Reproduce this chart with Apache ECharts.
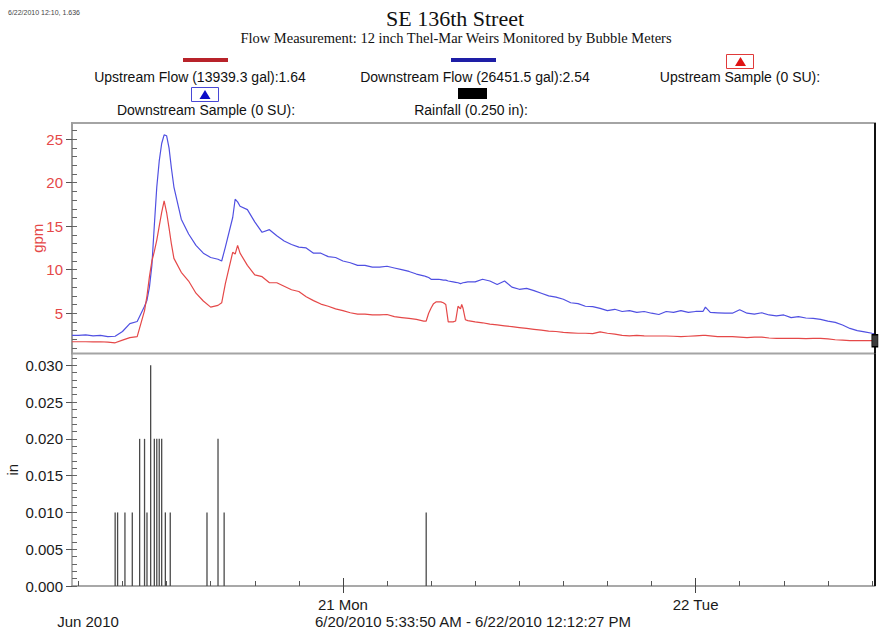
<!DOCTYPE html>
<html>
<head>
<meta charset="utf-8">
<title>SE 136th Street</title>
<script src="https://cdn.jsdelivr.net/npm/echarts@6/dist/echarts.min.js"></script>
<style>
  html, body { margin: 0; padding: 0; background: #ffffff; }
  #chart { width: 879px; height: 631px; }
</style>
</head>
<body>
<div id="chart"></div>
<script>
// ---- Flow record (gpm), shared timestamps for both meters ----
const flowTimes = [
  '2010-06-20 05:34', '2010-06-20 06:00', '2010-06-20 06:30', '2010-06-20 07:00', '2010-06-20 07:30',
  '2010-06-20 08:00', '2010-06-20 08:30', '2010-06-20 09:00', '2010-06-20 09:30', '2010-06-20 10:00',
  '2010-06-20 10:30', '2010-06-20 10:40', '2010-06-20 10:50', '2010-06-20 11:00', '2010-06-20 11:10',
  '2010-06-20 11:20', '2010-06-20 11:30', '2010-06-20 11:40', '2010-06-20 11:50', '2010-06-20 12:00',
  '2010-06-20 12:10', '2010-06-20 12:20', '2010-06-20 12:30', '2010-06-20 13:00', '2010-06-20 13:30',
  '2010-06-20 14:00', '2010-06-20 14:30', '2010-06-20 15:00', '2010-06-20 15:30', '2010-06-20 15:45',
  '2010-06-20 16:00', '2010-06-20 16:30', '2010-06-20 16:40', '2010-06-20 16:50', '2010-06-20 17:00',
  '2010-06-20 17:30', '2010-06-20 18:00', '2010-06-20 18:30', '2010-06-20 19:00', '2010-06-20 19:30',
  '2010-06-20 20:00', '2010-06-20 20:30', '2010-06-20 21:00', '2010-06-20 21:30', '2010-06-20 22:00',
  '2010-06-20 22:30', '2010-06-20 23:00', '2010-06-20 23:30', '2010-06-21 00:00', '2010-06-21 00:30',
  '2010-06-21 01:00', '2010-06-21 01:30', '2010-06-21 02:00', '2010-06-21 02:30', '2010-06-21 03:00',
  '2010-06-21 03:30', '2010-06-21 04:00', '2010-06-21 04:30', '2010-06-21 05:00', '2010-06-21 05:30',
  '2010-06-21 05:40', '2010-06-21 05:50', '2010-06-21 06:00', '2010-06-21 06:10', '2010-06-21 06:20',
  '2010-06-21 06:30', '2010-06-21 06:40', '2010-06-21 06:50', '2010-06-21 07:00', '2010-06-21 07:10',
  '2010-06-21 07:30', '2010-06-21 07:40', '2010-06-21 07:50', '2010-06-21 08:00', '2010-06-21 08:05',
  '2010-06-21 08:10', '2010-06-21 08:20', '2010-06-21 08:30', '2010-06-21 09:00', '2010-06-21 09:30',
  '2010-06-21 10:00', '2010-06-21 10:30', '2010-06-21 11:00', '2010-06-21 11:30', '2010-06-21 12:00',
  '2010-06-21 12:30', '2010-06-21 13:00', '2010-06-21 13:30', '2010-06-21 14:00', '2010-06-21 14:30',
  '2010-06-21 15:00', '2010-06-21 15:30', '2010-06-21 16:00', '2010-06-21 16:30', '2010-06-21 17:00',
  '2010-06-21 17:30', '2010-06-21 18:00', '2010-06-21 18:30', '2010-06-21 19:00', '2010-06-21 19:30',
  '2010-06-21 20:00', '2010-06-21 20:30', '2010-06-21 21:00', '2010-06-21 21:30', '2010-06-21 22:00',
  '2010-06-21 22:30', '2010-06-21 23:00', '2010-06-21 23:30', '2010-06-22 00:00', '2010-06-22 00:30',
  '2010-06-22 00:40', '2010-06-22 01:00', '2010-06-22 01:30', '2010-06-22 02:00', '2010-06-22 02:30',
  '2010-06-22 03:00', '2010-06-22 03:30', '2010-06-22 04:00', '2010-06-22 04:30', '2010-06-22 05:00',
  '2010-06-22 05:30', '2010-06-22 06:00', '2010-06-22 06:30', '2010-06-22 07:00', '2010-06-22 07:30',
  '2010-06-22 08:00', '2010-06-22 08:30', '2010-06-22 09:00', '2010-06-22 09:30', '2010-06-22 10:00',
  '2010-06-22 10:30', '2010-06-22 11:00', '2010-06-22 11:30', '2010-06-22 12:00', '2010-06-22 12:12'
];

const upstreamFlow = [
  1.72, 1.72, 1.72, 1.70, 1.72,
  1.68, 1.60, 1.90, 2.20, 2.30,
  5.30, 7.00, 9.20, 11.0, 12.1,
  13.4, 15.0, 16.6, 17.9, 16.6,
  14.8, 12.9, 11.3, 9.70, 8.70,
  7.30, 6.40, 5.70, 5.90, 6.20,
  8.40, 12.0, 11.8, 12.8, 11.9,
  10.5, 9.40, 9.20, 8.50, 8.50,
  8.10, 7.70, 7.50, 6.90, 6.45,
  6.05, 5.80, 5.50, 5.30, 5.05,
  4.90, 4.90, 4.80, 4.80, 4.85,
  4.60, 4.50, 4.40, 4.30, 4.10,
  4.10, 5.00, 5.60, 6.10, 6.30,
  6.30, 6.30, 6.20, 6.00, 4.00,
  4.00, 4.10, 5.80, 5.50, 6.00,
  5.60, 4.25, 4.15, 4.00, 3.90,
  3.75, 3.65, 3.55, 3.45, 3.35,
  3.25, 3.15, 3.05, 2.95, 2.90,
  2.80, 2.75, 2.70, 2.70, 2.65,
  2.85, 2.70, 2.60, 2.45, 2.40,
  2.45, 2.40, 2.38, 2.38, 2.38,
  2.35, 2.30, 2.35, 2.40, 2.45,
  2.45, 2.40, 2.30, 2.30, 2.30,
  2.25, 2.20, 2.25, 2.25, 2.15,
  2.10, 2.10, 2.12, 2.10, 2.08,
  2.10, 2.10, 2.05, 1.95, 1.90,
  1.85, 1.84, 1.85, 1.84, 1.84
];

const downstreamFlow = [
  2.45, 2.45, 2.50, 2.40, 2.45,
  2.30, 2.35, 2.90, 3.80, 4.05,
  5.80, 6.50, 8.00, 10.5, 15.1,
  19.5, 22.5, 24.5, 25.5, 25.4,
  24.0, 21.6, 19.5, 15.8, 14.1,
  12.8, 11.9, 11.4, 11.2, 11.0,
  12.6, 16.0, 18.1, 17.8, 17.3,
  16.9, 15.5, 14.3, 14.6, 13.9,
  13.3, 12.9, 12.6, 12.5, 11.9,
  11.9, 11.5, 11.4, 11.0, 10.8,
  10.5, 10.5, 10.3, 10.3, 10.4,
  10.2, 10.0, 9.80, 9.50, 9.30,
  9.20, 9.10, 8.90, 8.90, 8.90,
  8.90, 8.85, 8.80, 8.80, 8.70,
  8.60, 8.55, 8.50, 8.40, 8.45,
  8.50, 8.55, 8.60, 8.60, 8.90,
  8.70, 8.30, 8.70, 8.00, 7.75,
  7.85, 7.60, 7.30, 7.00, 6.85,
  6.60, 6.20, 6.10, 5.80, 5.75,
  5.55, 5.30, 5.45, 5.20, 5.30,
  5.10, 5.20, 5.00, 4.85, 5.20,
  5.10, 5.30, 5.10, 5.20, 5.20,
  5.70, 5.10, 5.05, 5.00, 5.00,
  5.40, 5.00, 4.90, 5.05, 4.80,
  4.70, 4.80, 4.50, 4.60, 4.45,
  4.40, 4.30, 4.10, 3.95, 3.65,
  3.25, 3.00, 2.85, 2.70, 2.65
];

// ---- Rain gauge tips (in) ----
const rainTimes = [
  '2010-06-20 08:30', '2010-06-20 08:40', '2010-06-20 09:10', '2010-06-20 09:40', '2010-06-20 10:10',
  '2010-06-20 10:30', '2010-06-20 10:40', '2010-06-20 10:55', '2010-06-20 11:10', '2010-06-20 11:20',
  '2010-06-20 11:30', '2010-06-20 11:40', '2010-06-20 11:55', '2010-06-20 12:15', '2010-06-20 14:45',
  '2010-06-20 15:30', '2010-06-20 15:55', '2010-06-21 05:40'
];
const rainfall = [
  0.010, 0.010, 0.010, 0.010, 0.020,
  0.020, 0.010, 0.030, 0.020, 0.020,
  0.020, 0.020, 0.010, 0.010, 0.010,
  0.020, 0.010, 0.010
];

// ---- Axis ticks and labels ----
const flowTickValues = [5, 10, 15, 20, 25];
const rainTickLabels = ['0.000', '0.005', '0.010', '0.015', '0.020', '0.025', '0.030'];
const dayTickTimes = ['2010-06-21 00:00', '2010-06-22 00:00'];
const dayTickLabels = ['21 Mon', '22 Tue'];
const periodStart = '2010-06-20 05:33:50';
const periodEnd = '2010-06-22 12:12:27';

// ---- Header and legend text ----
const stampText = '6/22/2010 12:10, 1.636';
const titleText = 'SE 136th Street';
const subtitleText = 'Flow Measurement: 12 inch Thel-Mar Weirs Monitored by Bubble Meters';
const legendNames = [
  'Upstream Flow (13939.3 gal):1.64',
  'Downstream Flow (26451.5 gal):2.54',
  'Upstream Sample (0 SU):',
  'Downstream Sample (0 SU):',
  'Rainfall (0.250 in):'
];
const monthLabel = 'Jun 2010';
const rangeLabel = '6/20/2010 5:33:50 AM - 6/22/2010 12:12:27 PM';

// ---------------------------------------------------------------
// Times are handled as millisecond numbers on value axes.
const toMs = s => new Date(s.replace(' ', 'T')).getTime();
const startMs = toMs(periodStart);
const endMs = toMs(periodEnd);
const HOUR = 3600 * 1000;

const threeHourTicks = [];
for (let t = toMs('2010-06-20 06:00'); t <= endMs; t += 3 * HOUR) threeHourTicks.push(t);
const dayTicks = dayTickTimes.map(toMs);

const flowMin = 0.37, flowMax = 26.86;
const flowMinorTicks = [];
for (let v = 1; v <= 26; v++) flowMinorTicks.push(v);

const rainTickValues = rainTickLabels.map(Number);
const rainMax = 0.0316;
const rainMinorTicks = [];
for (let k = 0; k <= 31; k++) rainMinorTicks.push(k / 1000);

const upstreamData = flowTimes.map((t, i) => [toMs(t), upstreamFlow[i]]);
const downstreamData = flowTimes.map((t, i) => [toMs(t), downstreamFlow[i]]);
const rainData = rainTimes.map((t, i) => [toMs(t), rainfall[i]]);

const RED = '#e54848';
const BLUE = '#5050e2';
const SANS = '"Liberation Sans", Arial, sans-serif';
const SERIF = '"Liberation Serif", "Times New Roman", serif';
const frameGray = '#a4a4a4';

const timeAxis = (grid, extra) => Object.assign({
  gridIndex: grid, type: 'value', min: startMs, max: endMs, position: 'bottom',
  axisLine: { show: false }, axisTick: { show: false }, axisLabel: { show: false },
  splitLine: { show: false }
}, extra);

const valueAxis = (grid, min, max, extra) => Object.assign({
  gridIndex: grid, type: 'value', min: min, max: max, position: 'left',
  axisLine: { show: false }, axisTick: { show: false }, axisLabel: { show: false },
  splitLine: { show: false }
}, extra);

const cursorLine = {
  silent: true,
  symbol: ['none', 'none'],
  label: { show: false },
  lineStyle: { color: '#111', width: 2, type: 'solid' },
  data: [{ xAxis: endMs }]
};

const text = (x, y, str, font, fill, align) => ({
  type: 'text', x: x, y: y, silent: true,
  style: { text: str, font: font, fill: fill || '#111', textAlign: align || 'center', textVerticalAlign: 'middle' }
});

const option = {
  animation: false,
  backgroundColor: '#ffffff',
  grid: [
    { left: 72, right: 4, top: 123, height: 230.5, containLabel: false, outerBoundsMode: 'none',
      show: true, borderColor: frameGray, borderWidth: 2, backgroundColor: 'transparent' },
    { left: 72, right: 4, top: 353.5, height: 232.5, containLabel: false, outerBoundsMode: 'none' }
  ],
  xAxis: [
    timeAxis(0),
    timeAxis(1, {
      axisLine: { show: true, lineStyle: { color: '#8c8c8c', width: 1.5 } },
      axisTick: { show: true, inside: true, length: 5, customValues: threeHourTicks, lineStyle: { color: '#555', width: 1 } }
    }),
    timeAxis(1, {
      axisTick: { show: true, inside: true, length: 8, customValues: dayTicks, lineStyle: { color: '#444', width: 1 } }
    }),
    timeAxis(1, {
      axisTick: { show: true, inside: false, length: 7, customValues: dayTicks, lineStyle: { color: '#444', width: 1 } },
      axisLabel: {
        show: true, customValues: dayTicks, margin: 11,
        fontFamily: SANS, fontSize: 15, color: '#1a1a1a',
        formatter: v => dayTickLabels[dayTicks.indexOf(v)] || ''
      }
    })
  ],
  yAxis: [
    valueAxis(0, flowMin, flowMax, {
      name: 'gpm', nameLocation: 'middle', nameRotate: 90, nameGap: 27, nameMoveOverlap: false,
      nameTextStyle: { color: RED, fontFamily: SANS, fontSize: 15 },
      axisLine: { show: true, lineStyle: { color: '#9a9a9a', width: 1.5 } },
      axisTick: { show: true, length: 6, customValues: flowTickValues, lineStyle: { color: '#555' } },
      axisLabel: { show: true, customValues: flowTickValues, margin: 9, color: RED, fontFamily: SANS, fontSize: 15 }
    }),
    valueAxis(0, flowMin, flowMax, {
      axisTick: { show: true, inside: true, length: 5, customValues: flowMinorTicks, lineStyle: { color: '#666' } }
    }),
    valueAxis(1, 0, rainMax, {
      name: 'in', nameLocation: 'middle', nameRotate: 90, nameGap: 52, nameMoveOverlap: false,
      nameTextStyle: { color: '#1a1a1a', fontFamily: SANS, fontSize: 15 },
      axisLine: { show: true, lineStyle: { color: '#9a9a9a', width: 1.5 } },
      axisTick: { show: true, length: 6, customValues: rainTickValues, lineStyle: { color: '#555' } },
      axisLabel: {
        show: true, customValues: rainTickValues, margin: 9, color: '#1a1a1a', fontFamily: SANS, fontSize: 15,
        formatter: v => rainTickLabels[rainTickValues.indexOf(v)] || v.toFixed(3)
      }
    }),
    valueAxis(1, 0, rainMax, {
      axisTick: { show: true, inside: true, length: 5, customValues: rainMinorTicks, lineStyle: { color: '#666' } }
    })
  ],
  series: [
    {
      name: 'Downstream Flow', type: 'line', xAxisIndex: 0, yAxisIndex: 0,
      data: downstreamData, symbol: 'none', showSymbol: false,
      lineStyle: { color: BLUE, width: 1.2 }, itemStyle: { color: BLUE }
    },
    {
      name: 'Upstream Flow', type: 'line', xAxisIndex: 0, yAxisIndex: 0,
      data: upstreamData, symbol: 'none', showSymbol: false,
      lineStyle: { color: RED, width: 1.2 }, itemStyle: { color: RED },
      markLine: cursorLine,
      markPoint: {
        silent: true,
        symbol: 'rect', symbolSize: [6, 12],
        itemStyle: { color: '#3c3c3c', borderColor: '#000', borderWidth: 1 },
        label: { show: false },
        data: [{ coord: upstreamData[upstreamData.length - 1] }]
      }
    },
    {
      name: 'Rainfall', type: 'bar', xAxisIndex: 1, yAxisIndex: 2,
      data: rainData, barWidth: 1.3,
      itemStyle: { color: '#4a4a4a' },
      markLine: cursorLine
    }
  ],
  graphic: [
    text(8, 12, stampText, '7px ' + SANS, '#444', 'left'),
    text(455, 18, titleText, '22px ' + SERIF, '#111'),
    text(456, 38, subtitleText, '14.5px ' + SERIF, '#111'),

    // legend row 1
    { type: 'rect', silent: true, shape: { x: 183, y: 58, width: 45, height: 4 }, style: { fill: '#b8232a' } },
    text(200, 77, legendNames[0], '14px ' + SANS),
    { type: 'rect', silent: true, shape: { x: 451, y: 58, width: 45, height: 4 }, style: { fill: '#1e1ea6' } },
    text(475, 77, legendNames[1], '14px ' + SANS),
    { type: 'rect', silent: true, shape: { x: 726.5, y: 54.5, width: 27, height: 14 }, style: { fill: '#fff', stroke: '#e03a3a', lineWidth: 1 } },
    { type: 'polygon', silent: true, shape: { points: [[735, 66], [746, 66], [740.5, 57]] }, style: { fill: '#e01414' } },
    text(740, 77, legendNames[2], '14px ' + SANS),

    // legend row 2
    { type: 'rect', silent: true, shape: { x: 191.5, y: 87.5, width: 27, height: 14 }, style: { fill: '#fff', stroke: '#4848d6', lineWidth: 1 } },
    { type: 'polygon', silent: true, shape: { points: [[199.5, 99], [210.5, 99], [205, 90]] }, style: { fill: '#0c0cc8' } },
    text(206, 110, legendNames[3], '14px ' + SANS),
    { type: 'rect', silent: true, shape: { x: 458, y: 88, width: 29, height: 11 }, style: { fill: '#000' } },
    text(471, 110, legendNames[4], '14px ' + SANS),

    // time-axis footer
    text(88, 621, monthLabel, '15px ' + SANS, '#1a1a1a'),
    text(473, 621, rangeLabel, '15px ' + SANS, '#1a1a1a')
  ]
};

const chart = echarts.init(document.getElementById('chart'), null, { renderer: 'svg', width: 879, height: 631 });
chart.setOption(option);
</script>
</body>
</html>
